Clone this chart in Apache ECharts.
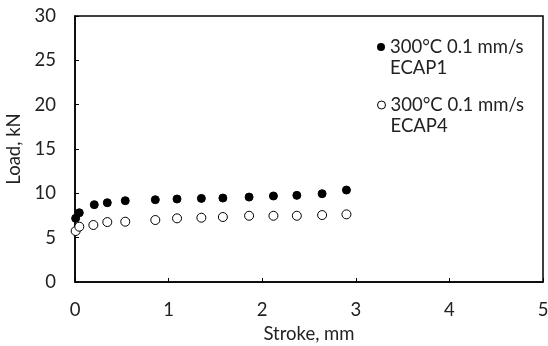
<!DOCTYPE html>
<html><head><meta charset="utf-8">
<script src="https://cdn.jsdelivr.net/npm/echarts@6/dist/echarts.min.js"></script>
<style>html,body{margin:0;padding:0;background:#fff}#c{width:548px;height:346px}</style>
</head><body><div id="c"></div>
<script>
const seriesNames = ['300°C 0.1 mm/s\nECAP1', '300°C 0.1 mm/s\nECAP4'];
const strokeEcap1 = [0.007, 0.046, 0.206, 0.345, 0.537, 0.858, 1.09, 1.35, 1.58, 1.86, 2.12, 2.37, 2.64, 2.90];
const loadEcap1 = [7.18, 7.81, 8.72, 8.94, 9.17, 9.28, 9.36, 9.43, 9.47, 9.58, 9.70, 9.77, 9.96, 10.37];
const strokeEcap4 = [0.007, 0.046, 0.196, 0.345, 0.537, 0.858, 1.09, 1.35, 1.58, 1.86, 2.12, 2.37, 2.64, 2.90];
const loadEcap4 = [5.75, 6.24, 6.43, 6.76, 6.80, 6.99, 7.18, 7.25, 7.33, 7.47, 7.47, 7.47, 7.55, 7.63];
const xTicks = [0, 1, 2, 3, 4, 5];
const yTicks = [0, 5, 10, 15, 20, 25, 30];

const font = 'Lato, "Open Sans", sans-serif';
const fs = 18.5;
const lh = 21;
const chart = echarts.init(document.getElementById('c'), null, {renderer: 'canvas'});
const zip = (xs, ys) => xs.map((x, i) => [x, ys[i]]);
const legendBase = {
  orient: 'vertical', left: 377, padding: 0,
  itemWidth: 8, itemHeight: 8, itemGap: 0, icon: 'circle',
  formatter: name => [' '].concat(name.split('\n')).map(s => '{a|' + s + '}').join('\n'),
  textStyle: {fontFamily: font, fontSize: fs, color: '#222',
    rich: {a: {fontFamily: font, fontSize: fs, color: '#222', lineHeight: lh}}}
};
chart.setOption({
  animation: false,
  backgroundColor: '#fff',
  grid: {left: 75, right: 5, top: 16, bottom: 64, outerBoundsMode: 'none', containLabel: false,
    show: true, borderColor: '#000', borderWidth: 1.5, backgroundColor: 'transparent'},
  xAxis: {
    type: 'value', min: xTicks[0], max: xTicks[xTicks.length - 1], interval: 1,
    name: 'Stroke, mm', nameLocation: 'middle', nameGap: 42,
    nameTextStyle: {fontFamily: font, fontSize: fs, color: '#222'},
    axisLine: {lineStyle: {color: '#000', width: 1.5}},
    axisTick: {inside: true, length: 4, lineStyle: {color: '#000'}},
    axisLabel: {fontFamily: font, fontSize: fs, color: '#222', margin: 19},
    splitLine: {show: false}
  },
  yAxis: {
    type: 'value', min: yTicks[0], max: yTicks[yTicks.length - 1], interval: 5,
    name: 'Load, kN', nameLocation: 'middle', nameGap: 39,
    nameTextStyle: {fontFamily: font, fontSize: fs, color: '#222'},
    axisLine: {lineStyle: {color: '#000', width: 1.5}},
    axisTick: {inside: true, length: 4, lineStyle: {color: '#000'}},
    axisLabel: {fontFamily: font, fontSize: fs, color: '#222', margin: 19},
    splitLine: {show: false}
  },
  legend: [
    Object.assign({}, legendBase, {top: 16.5,
      data: [{name: seriesNames[0], itemStyle: {color: '#000', borderWidth: 0}}]}),
    Object.assign({}, legendBase, {top: 74.5,
      data: [{name: seriesNames[1], itemStyle: {color: '#fff', borderColor: '#000', borderWidth: 1}}]})
  ],
  series: [
    {name: seriesNames[0], type: 'scatter', symbol: 'circle', symbolSize: 8,
     itemStyle: {color: '#000', borderColor: '#000', borderWidth: 1, opacity: 1},
     data: zip(strokeEcap1, loadEcap1)},
    {name: seriesNames[1], type: 'scatter', symbol: 'circle', symbolSize: 9,
     itemStyle: {color: '#fff', borderColor: '#000', borderWidth: 1, opacity: 1},
     data: zip(strokeEcap4, loadEcap4)}
  ]
});
</script></body></html>
